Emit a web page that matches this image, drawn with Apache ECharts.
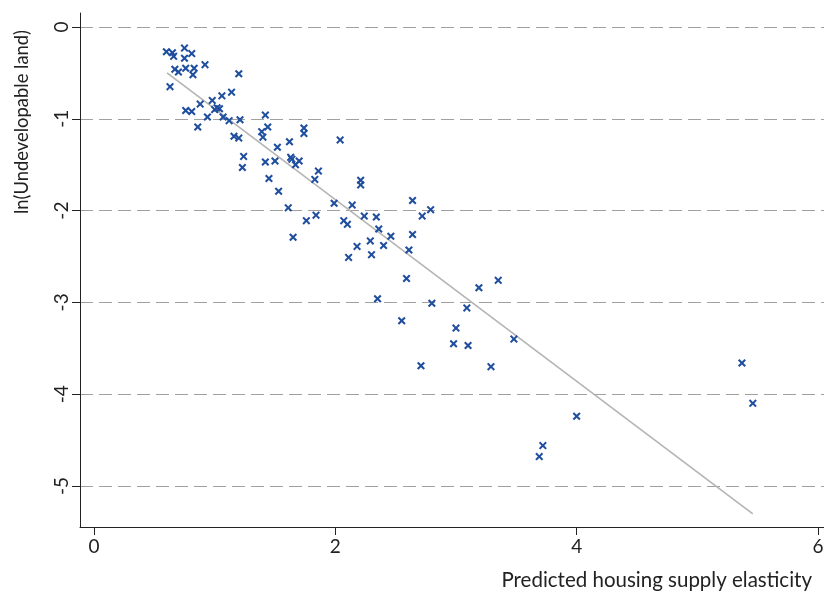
<!DOCTYPE html>
<html><head><meta charset="utf-8">
<script src="https://cdn.jsdelivr.net/npm/echarts@6/dist/echarts.min.js"></script>
<style>html,body{margin:0;padding:0;background:#fff}#c{width:824px;height:592px}</style>
</head><body><div id="c"></div>
<script>
const elasticity = [0.60,0.65,0.66,0.75,0.81,0.75,0.67,0.70,0.76,0.83,
  0.82,0.92,1.20,0.63,1.06,1.14,0.98,0.88,0.76,0.81,
  1.00,1.02,1.04,0.94,1.07,1.12,1.21,1.42,0.86,1.16,
  1.20,1.44,1.39,1.40,1.52,1.24,1.23,1.62,1.74,1.74,
  2.04,1.42,1.50,1.63,1.64,1.70,1.67,1.86,1.83,1.45,
  1.53,1.61,1.99,1.76,1.84,2.07,2.10,1.65,2.21,2.21,
  2.14,2.24,2.34,2.64,2.79,2.72,2.36,2.46,2.64,2.29,
  2.18,2.40,2.30,2.11,2.61,2.59,2.35,3.19,3.35,2.80,
  3.09,2.55,3.00,2.98,3.10,3.48,2.71,3.29,4.00,3.72,
  3.69,5.37,5.46];
const lnUndevelopable = [-0.27,-0.28,-0.32,-0.23,-0.29,-0.34,-0.46,-0.49,-0.45,-0.45,
  -0.52,-0.41,-0.51,-0.65,-0.75,-0.71,-0.80,-0.84,-0.91,-0.92,
  -0.90,-0.88,-0.89,-0.98,-0.98,-1.02,-1.01,-0.96,-1.09,-1.19,
  -1.21,-1.09,-1.14,-1.20,-1.31,-1.41,-1.53,-1.25,-1.10,-1.16,
  -1.23,-1.47,-1.46,-1.42,-1.44,-1.46,-1.50,-1.57,-1.66,-1.65,
  -1.79,-1.97,-1.92,-2.11,-2.05,-2.11,-2.15,-2.29,-1.67,-1.72,
  -1.94,-2.06,-2.07,-1.89,-1.99,-2.06,-2.20,-2.28,-2.26,-2.33,
  -2.39,-2.38,-2.48,-2.51,-2.43,-2.74,-2.96,-2.84,-2.76,-3.01,
  -3.06,-3.20,-3.28,-3.45,-3.47,-3.40,-3.69,-3.70,-4.24,-4.56,
  -4.68,-3.66,-4.10];
const fitX = [0.605, 5.46];
const fitY = [-0.50, -5.305];
const xTicks = [0, 2, 4, 6];
const yTicks = [0, -1, -2, -3, -4, -5];
const xTitle = 'Predicted housing supply elasticity';
const yTitle = 'ln(Undevelopable land)';

const FONT = 'Lato, "Open Sans", sans-serif';
const points = elasticity.map((x, i) => [x, lnUndevelopable[i]]);
const fit = fitX.map((x, i) => [x, fitY[i]]);
const xMark = 'path://M0,1.8 L1.8,0 L5,3.2 L8.2,0 L10,1.8 L6.8,5 L10,8.2 L8.2,10 L5,6.8 L1.8,10 L0,8.2 L3.2,5 Z';

const chart = echarts.init(document.getElementById('c'), null, {renderer: 'canvas'});
chart.setOption({
  animation: false,
  backgroundColor: '#fff',
  grid: {left: 80, right: 0, top: 13, bottom: 65, containLabel: false, outerBoundsMode: 'none'},
  xAxis: {
    type: 'value', min: -0.116, max: 6.05,
    axisLine: {show: true, onZero: false, lineStyle: {color: '#222', width: 1}},
    axisTick: {show: true, length: 8, customValues: xTicks, lineStyle: {color: '#222'}},
    axisLabel: {customValues: xTicks, fontFamily: FONT, fontSize: 19, color: '#222', margin: 10},
    splitLine: {show: false}
  },
  yAxis: {
    type: 'value', min: -5.447, max: 0.1525,
    axisLine: {show: true, onZero: false, lineStyle: {color: '#222', width: 1}},
    axisTick: {show: true, length: 8, customValues: yTicks, lineStyle: {color: '#222'}},
    axisLabel: {customValues: yTicks, rotate: 90, fontFamily: FONT, fontSize: 19, color: '#222', margin: 9},
    splitLine: {show: true, lineStyle: {color: '#a0a0a0', width: 1, type: [13, 6]}}
  },
  graphic: [
    {type: 'text', x: 22, y: 122, rotation: Math.PI / 2,
     style: {text: yTitle, fontFamily: FONT, fontSize: 18.4, fill: '#222', textAlign: 'center', textVerticalAlign: 'middle'}},
    {type: 'text', x: 812, y: 580,
     style: {text: xTitle, fontFamily: FONT, fontSize: 20.5, fill: '#222', textAlign: 'right', textVerticalAlign: 'middle'}}
  ],
  series: [
    {type: 'line', data: fit, symbol: 'none', silent: true, z: 1,
     lineStyle: {color: '#b4b4b4', width: 1.6}},
    {type: 'scatter', data: points, symbol: xMark, symbolSize: 8, z: 3,
     itemStyle: {color: '#1f4e9e', opacity: 1}}
  ]
});
</script>
</body></html>
